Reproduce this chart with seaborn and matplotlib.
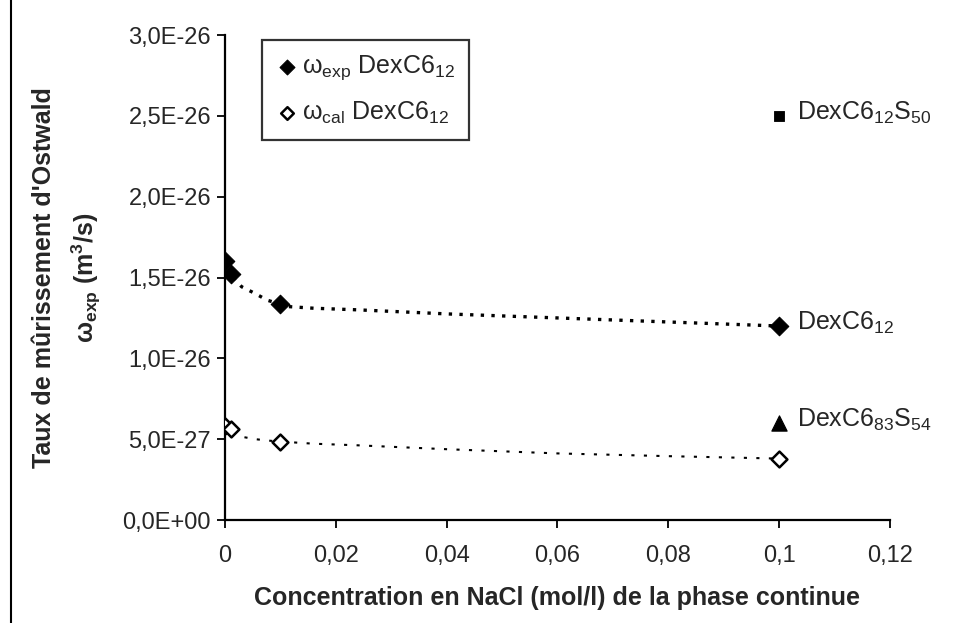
import matplotlib
matplotlib.use("Agg")
import matplotlib.pyplot as plt
import numpy as np
import pandas as pd
import seaborn as sns
from matplotlib.ticker import FuncFormatter, MultipleLocator

# --- data ---
nacl = [0.0, 0.001, 0.01, 0.1]                      # mol/l
omega_exp = [1.60e-26, 1.52e-26, 1.335e-26, 1.20e-26]
omega_cal = [5.8e-27, 5.6e-27, 4.85e-27, 3.8e-27]

# dotted trend curves
trend_x = [0.0015, 0.003, 0.0055, 0.0076, 0.01, 0.0115, 0.016, 0.024, 0.04, 0.06, 0.08, 0.1]
trend_exp = [1.50e-26, 1.443e-26, 1.40e-26, 1.36e-26, 1.335e-26, 1.32e-26, 1.31e-26, 1.30e-26,
             1.275e-26, 1.25e-26, 1.225e-26, 1.20e-26]
trend_cal = [5.45e-27, 5.15e-27, 5.0e-27, 4.92e-27, 4.85e-27, 4.82e-27, 4.72e-27, 4.62e-27,
             4.38e-27, 4.12e-27, 3.95e-27, 3.8e-27]

# other samples at 0.1 mol/l
other_x = [0.1, 0.1]
other_y = [2.5e-26, 6.0e-27]
other_names = ["DexC6$_{12}$S$_{50}$", "DexC6$_{83}$S$_{54}$"]

df_pts = pd.DataFrame({"x": nacl, "exp": omega_exp, "cal": omega_cal})
df_trend = pd.DataFrame({"x": trend_x, "exp": trend_exp, "cal": trend_cal})

sns.set_theme(style="white")
plt.rcParams["font.family"] = ["Liberation Sans", "DejaVu Sans"]
plt.rcParams["mathtext.fontset"] = "custom"
plt.rcParams["mathtext.rm"] = "Liberation Sans"
plt.rcParams["mathtext.it"] = "Liberation Sans:italic"
plt.rcParams["mathtext.bf"] = "Liberation Sans:bold"

fig = plt.figure(figsize=(9.59, 6.23), dpi=100)
ax = fig.add_axes([0.2346, 0.1653, 0.6934, 0.7785])

# trend lines
sns.lineplot(data=df_trend, x="x", y="exp", ax=ax, color="black",
             linewidth=2.4, linestyle=(0, (1, 2.2)), sort=False)
sns.lineplot(data=df_trend, x="x", y="cal", ax=ax, color="black",
             linewidth=1.5, linestyle=(0, (1.5, 4.5)), sort=False)

# points
sns.scatterplot(data=df_pts, x="x", y="exp", ax=ax, marker="D", s=90,
                color="black", edgecolor="black", zorder=5,
                label="ω$_{\\mathregular{exp}}$ DexC6$_{12}$")
sns.scatterplot(data=df_pts, x="x", y="cal", ax=ax, marker="D", s=65,
                facecolor="white", edgecolor="black", linewidth=1.8, zorder=5,
                label="ω$_{\\mathregular{cal}}$ DexC6$_{12}$")
sns.scatterplot(x=other_x[:1], y=other_y[:1], ax=ax, marker="s", s=60,
                color="black", edgecolor="black", zorder=5)
sns.scatterplot(x=other_x[1:], y=other_y[1:], ax=ax, marker="^", s=120,
                color="black", edgecolor="black", zorder=5)

# sample labels
ax.annotate("DexC6$_{12}$", (nacl[-1], omega_exp[-1]), xytext=(13, 2),
            textcoords="offset points", va="center", fontsize=18)
for xv, yv, name in zip(other_x, other_y, other_names):
    ax.annotate(name, (xv, yv), xytext=(13, 2), textcoords="offset points",
                va="center", fontsize=18)

ax.set_xlim(0, 0.12)
ax.set_ylim(0, 3.0e-26)
ax.xaxis.set_major_locator(MultipleLocator(0.02))
ax.yaxis.set_major_locator(MultipleLocator(0.5e-26))
ax.xaxis.set_major_formatter(FuncFormatter(lambda v, p: f"{v:g}".replace(".", ",")))
ax.yaxis.set_major_formatter(FuncFormatter(lambda v, p: f"{v:.1E}".replace(".", ",")))
ax.yaxis.get_offset_text().set_visible(False)
ax.tick_params(axis="both", direction="out", length=6, width=1.3, color="black",
               labelsize=17, left=True, bottom=True)
ax.tick_params(axis="y", pad=4)
ax.tick_params(axis="x", pad=12)

for side in ["top", "right"]:
    ax.spines[side].set_visible(False)
for side in ["left", "bottom"]:
    ax.spines[side].set_color("black")
    ax.spines[side].set_linewidth(1.6)

ax.set_xlabel("Concentration en NaCl (mol/l) de la phase continue",
              fontsize=18, fontweight="bold", labelpad=14)
ax.set_ylabel("Taux de mûrissement d'Ostwald\nω$_{\\mathregular{exp}}$ (m$^{\\mathregular{3}}$/s)",
              fontsize=18, fontweight="bold", labelpad=14, linespacing=1.6)

leg = ax.legend(loc="upper left", bbox_to_anchor=(0.056, 0.99), fontsize=18,
                frameon=True, fancybox=False, handletextpad=0.15,
                borderpad=0.55, labelspacing=0.7, handlelength=0.9,
                markerscale=0.8, borderaxespad=0)
leg.get_frame().set_edgecolor("black")
leg.get_frame().set_linewidth(1.6)

# chart-area border on the left edge, as in the scan
fig.add_artist(plt.Line2D([0.011, 0.011], [0, 1], color="black", linewidth=1.5))

fig.savefig("out.png", dpi=100)
